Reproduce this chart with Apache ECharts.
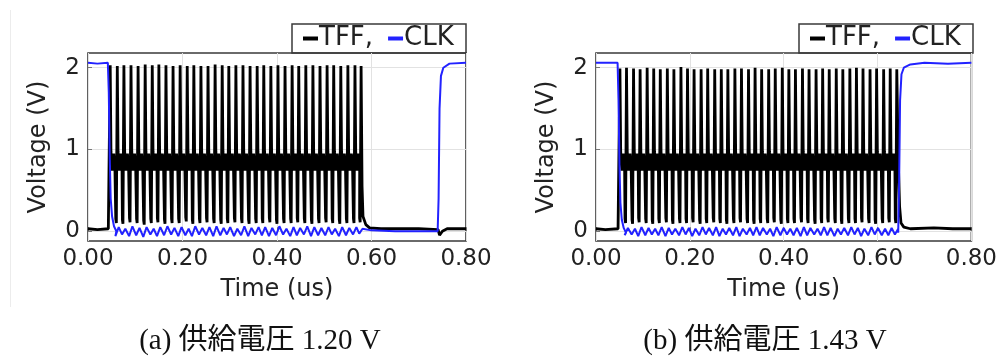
<!DOCTYPE html>
<html><head><meta charset="utf-8">
<script src="https://cdn.jsdelivr.net/npm/echarts@6/dist/echarts.min.js"></script>
<style>html,body{margin:0;padding:0;background:#fff}#c{width:1000px;height:363px}</style>
</head><body><div id="c"></div>
<script>
// ---------- data ----------
const xTicks = [0, 0.2, 0.4, 0.6, 0.8];
const yTicks = [0, 1, 2];
const seriesNames = ['TFF', 'CLK'];
const captions = ['(a) 供給電圧 1.20 V', '(b) 供給電圧 1.43 V'];

// panel (a): TFF pulse peaks (time us, voltage V) and the lows before each pulse
const tffA_peakT = [0.047,0.062,0.076,0.091,0.106,0.121,0.136,0.150,0.165,0.180,0.195,0.210,0.224,0.239,0.254,0.269,0.284,0.298,0.313,0.328,0.343,0.358,0.372,0.387,0.402,0.417,0.432,0.446,0.461,0.476,0.491,0.506,0.520,0.535,0.550,0.565,0.578];
const tffA_peakV = [2.03,2.02,2.03,2.03,2.02,2.04,2.03,2.04,2.03,2.02,2.03,2.02,2.03,2.02,2.02,2.04,2.03,2.02,2.03,2.03,2.02,2.02,2.03,2.02,2.03,2.02,2.03,2.02,2.03,2.03,2.02,2.03,2.03,2.02,2.03,2.03,2.02];
const tffA_lowV  = [0.03,0.10,0.09,0.11,0.10,0.08,0.10,0.11,0.09,0.10,0.10,0.12,0.09,0.10,0.11,0.10,0.09,0.10,0.11,0.10,0.09,0.10,0.10,0.11,0.09,0.10,0.10,0.11,0.10,0.09,0.10,0.11,0.10,0.09,0.10,0.10,0.11];
// panel (a): CLK ripple while low (trough / crest per TFF cycle)
const clkA_lo = [-0.05,-0.06,-0.04,-0.06,-0.05,-0.07,-0.04,-0.06,-0.05,-0.04,-0.06,-0.05,-0.06,-0.04,-0.05,-0.06,-0.05,-0.04,-0.06,-0.05,-0.06,-0.04,-0.05,-0.06,-0.05,-0.04,-0.06,-0.05,-0.04,-0.06,-0.05,-0.05,-0.04,-0.06,-0.05,-0.04,-0.03];
const clkA_hi = [0.04,0.05,0.03,0.06,0.04,0.05,0.03,0.05,0.06,0.04,0.05,0.03,0.06,0.04,0.05,0.06,0.04,0.05,0.03,0.06,0.04,0.05,0.05,0.04,0.06,0.03,0.05,0.04,0.06,0.05,0.04,0.05,0.03,0.05,0.04,0.05,0.03];
// panel (a): flat parts before / after the burst
const tffA_pre  = [[0,0.03],[0.02,0.02],[0.043,0.03]];
const tffA_post = [[0.580,0.55],[0.582,0.18],[0.588,0.08],[0.596,0.04],[0.62,0.03],[0.70,0.03],[0.741,0.02],[0.744,-0.05],[0.750,0.0],[0.76,0.03],[0.80,0.03]];
const clkA_pre  = [[0,2.06],[0.02,2.05],[0.042,2.06],[0.044,1.7],[0.046,0.9],[0.048,0.4],[0.051,0.18],[0.055,0.06],[0.06,0.0]];
const clkA_post = [[0.582,0.02],[0.60,0.01],[0.65,0.0],[0.70,0.0],[0.740,0.0],[0.742,0.4],[0.744,1.5],[0.747,1.9],[0.752,2.0],[0.765,2.05],[0.8,2.06]];

// panel (b)
const tffB_peakT = [0.051,0.065,0.080,0.094,0.109,0.123,0.137,0.152,0.166,0.181,0.195,0.209,0.224,0.238,0.253,0.267,0.281,0.296,0.310,0.325,0.339,0.353,0.368,0.382,0.397,0.411,0.425,0.440,0.454,0.469,0.483,0.497,0.512,0.526,0.541,0.555,0.569,0.584,0.598,0.613,0.627,0.641];
const tffB_peakV = [1.99,2.00,1.99,1.98,2.00,1.99,1.98,1.99,1.98,2.01,1.99,1.98,1.98,1.99,1.98,1.98,1.98,1.99,1.99,1.98,2.00,1.98,1.98,1.99,2.00,1.98,1.98,1.99,1.98,1.98,1.99,1.98,1.99,1.98,1.99,2.00,1.99,1.98,1.99,1.98,1.99,1.98];
const tffB_lowV  = [0.03,0.10,0.09,0.11,0.10,0.09,0.10,0.11,0.09,0.10,0.10,0.11,0.09,0.10,0.11,0.10,0.09,0.10,0.11,0.10,0.09,0.10,0.10,0.11,0.09,0.10,0.10,0.11,0.10,0.09,0.10,0.11,0.10,0.09,0.10,0.10,0.11,0.10,0.09,0.10,0.11,0.10];
const clkB_lo = [-0.04,-0.05,-0.04,-0.06,-0.05,-0.04,-0.05,-0.06,-0.04,-0.05,-0.04,-0.06,-0.05,-0.04,-0.05,-0.06,-0.04,-0.05,-0.06,-0.04,-0.05,-0.05,-0.04,-0.06,-0.05,-0.04,-0.05,-0.06,-0.05,-0.04,-0.05,-0.05,-0.06,-0.04,-0.05,-0.04,-0.06,-0.05,-0.04,-0.05,-0.05,-0.04];
const clkB_hi = [0.03,0.04,0.03,0.05,0.04,0.03,0.05,0.04,0.03,0.05,0.04,0.03,0.05,0.04,0.05,0.03,0.04,0.05,0.03,0.04,0.05,0.04,0.03,0.05,0.04,0.03,0.04,0.05,0.04,0.03,0.05,0.04,0.03,0.04,0.05,0.04,0.03,0.05,0.04,0.03,0.04,0.03];
const tffB_pre  = [[0,0.03],[0.02,0.02],[0.047,0.03]];
const tffB_post = [[0.644,0.9],[0.647,0.3],[0.650,0.10],[0.656,0.05],[0.67,0.03],[0.72,0.04],[0.76,0.03],[0.80,0.03]];
const clkB_pre  = [[0,2.06],[0.02,2.06],[0.046,2.06],[0.048,1.6],[0.050,0.8],[0.052,0.35],[0.055,0.14],[0.059,0.04],[0.064,-0.02]];
const clkB_post = [[0.644,-0.02],[0.646,0.6],[0.648,1.6],[0.651,1.92],[0.656,2.0],[0.67,2.04],[0.70,2.06],[0.75,2.05],[0.8,2.06]];

// shape of one TFF period after its peak (dt in us, V)
const pulseDt = [0.0016,0.0045,0.0075,0.0100];
const pulseV  = [0.97,0.74,0.95,0.76];
const dropDt = 0.0032;   // time before the peak where the trace leaves the mid band
const riseDt = 0.0020;   // time before the peak of the low point

// ---------- build point lists ----------
function buildTFF(pre, peakT, peakV, lowV, post){
  const pts = pre.slice();
  for (let i=0;i<peakT.length;i++){
    if (i > 0) pts.push([peakT[i]-dropDt, lowV[i]+0.05]);
    pts.push([peakT[i]-riseDt, lowV[i]]);
    pts.push([peakT[i], peakV[i]]);
    if (i < peakT.length-1){
      for (let k=0;k<pulseDt.length;k++) pts.push([peakT[i]+pulseDt[k], pulseV[k]]);
    }
  }
  return pts.concat(post);
}
function buildCLK(pre, peakT, lo, hi, post){
  const pts = pre.slice();
  for (let i=1;i<peakT.length;i++){
    pts.push([peakT[i]-0.004, lo[i]]);
    pts.push([peakT[i]+0.003, hi[i]]);
  }
  return pts.concat(post);
}
const tffA = buildTFF(tffA_pre, tffA_peakT, tffA_peakV, tffA_lowV, tffA_post);
const clkA = buildCLK(clkA_pre, tffA_peakT, clkA_lo, clkA_hi, clkA_post);
const tffB = buildTFF(tffB_pre, tffB_peakT, tffB_peakV, tffB_lowV, tffB_post);
const clkB = buildCLK(clkB_pre, tffB_peakT, clkB_lo, clkB_hi, clkB_post);

// ---------- chart ----------
const FONT = '"DejaVu Sans"';
const TXT = '#222';
const panels = [
  {left:88, width:378},
  {left:596, width:377}
];
const chart = echarts.init(document.getElementById('c'), null, {renderer:'canvas'});
const grids = panels.map(p=>({left:p.left, top:53, width:p.width, height:188, show:true, borderColor:'#3a3a3a', borderWidth:1.6, backgroundColor:'transparent'}));
const xAxes = panels.map((p,i)=>({
  type:'value', gridIndex:i, min:0, max:0.8, interval:0.2,
  name:'Time (us)', nameLocation:'middle', nameGap:37,
  nameTextStyle:{fontFamily:FONT, fontSize:24, color:TXT},
  axisLine:{show:false},
  axisTick:{show:true, inside:true, length:4, lineStyle:{color:'#777'}},
  axisLabel:{fontFamily:FONT, fontSize:23, color:TXT, margin:7, formatter:v=>v.toFixed(2), showMinLabel:true, showMaxLabel:true},
  splitLine:{show:true, lineStyle:{color:'#e2e2e2', width:1}}
}));
const yAxes = panels.map((p,i)=>({
  type:'value', gridIndex:i, min:-0.12, max:2.18,
  name:'Voltage (V)', nameLocation:'middle', nameGap:37,
  nameTextStyle:{fontFamily:FONT, fontSize:24, color:TXT},
  axisLine:{show:false},
  axisTick:{show:true, inside:true, length:4, lineStyle:{color:'#777'}, customValues:yTicks},
  axisLabel:{fontFamily:FONT, fontSize:23, color:TXT, margin:8, customValues:yTicks},
  splitLine:{show:true, lineStyle:{color:'#e2e2e2', width:1}}
}));
const lineSeries = (name, data, idx, color, w, z)=>({
  name, type:'line', xAxisIndex:idx, yAxisIndex:idx, data, showSymbol:false, symbol:'none',
  lineStyle:{color, width:w}, itemStyle:{color}, z, animation:false, clip:true
});
const legends = panels.map((p,i)=>({
  left: p.left + p.width - 163, top: 24, padding:0, icon:'rect', itemWidth:15, itemHeight:4, itemGap:15,
  data: seriesNames,
  formatter: n => n==='TFF' ? 'TFF,' : n,
  textStyle:{fontFamily:FONT, fontSize:26, lineHeight:29, color:TXT, padding:[0,0,0,-4]},
  selectedMode:false
}));
const graphics = [];
panels.forEach((p,i)=>{
  graphics.push({type:'rect', shape:{x:p.left+p.width-174, y:24, width:174, height:29}, style:{fill:'#fff', stroke:'#3a3a3a', lineWidth:1.5}, z:-1});
});
graphics.push({type:'line', shape:{x1:10.5, y1:10, x2:10.5, y2:307}, style:{stroke:'#ececec', lineWidth:1}});
const capX = [260, 765];
captions.forEach((c,i)=>{
  graphics.push({type:'text', x:capX[i], y:341, style:{text:c, fontFamily:'"Liberation Serif", "Noto Sans CJK JP"', fontSize:29, fill:'#111', align:'center', verticalAlign:'middle'}});
});
chart.setOption({
  animation:false,
  backgroundColor:'#fff',
  grid:grids, xAxis:xAxes, yAxis:yAxes, legend:legends,
  graphic:{elements:graphics},
  series:[
    lineSeries('TFF', tffA, 0, '#000', 2.8, 2),
    lineSeries('CLK', clkA, 0, '#2222ff', 2, 3),
    lineSeries('TFF', tffB, 1, '#000', 2.8, 2),
    lineSeries('CLK', clkB, 1, '#2222ff', 2, 3)
  ]
});
</script></body></html>
